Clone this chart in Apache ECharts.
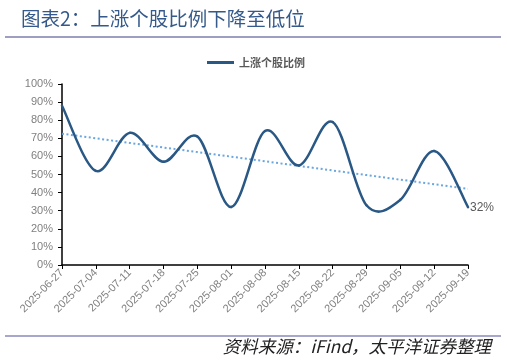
<!DOCTYPE html>
<html>
<head>
<meta charset="utf-8">
<script src="https://cdn.jsdelivr.net/npm/echarts@6/dist/echarts.min.js"></script>
<style>
html,body{margin:0;padding:0;background:#fff;}
#chart{width:507px;height:363px;}
</style>
</head>
<body>
<div id="chart"></div>
<script>
var titleText = '图表2：上涨个股比例下降至低位';
var sourceText = '资料来源：iFind，太平洋证券整理';
var seriesName = '上涨个股比例';
var categories = ['2025-06-27','2025-07-04','2025-07-11','2025-07-18','2025-07-25','2025-08-01','2025-08-08','2025-08-15','2025-08-22','2025-08-29','2025-09-05','2025-09-12','2025-09-19'];
var values = [88, 52, 73, 57, 71, 32, 74, 55, 79, 33, 36, 63, 32];
var yTicks = [0, 10, 20, 30, 40, 50, 60, 70, 80, 90, 100];

// linear trend line (least squares) derived from the values
var n = values.length, sx = 0, sy = 0, sxy = 0, sxx = 0;
for (var i = 0; i < n; i++) { sx += i; sy += values[i]; sxy += i * values[i]; sxx += i * i; }
var slope = (n * sxy - sx * sy) / (n * sxx - sx * sx);
var intercept = (sy - slope * sx) / n;
var trend = values.map(function (v, i) { return +(intercept + slope * i).toFixed(2); });

var lineColor = '#2A5885';

// Excel-style smoothed line: each segment is a cubic Bezier whose control
// points come from the neighbouring data points (converted by the axes).
function renderSmooth(params, api) {
  var i = params.dataIndex;
  function pt(j) {
    j = Math.max(0, Math.min(n - 1, j));
    return api.coord([j, values[j]]);
  }
  var children = [];
  if (i < n - 1) {
    var p0 = pt(i - 1), p1 = pt(i), p2 = pt(i + 1), p3 = pt(i + 2);
    var k = 1 / 6;
    children.push({
      type: 'bezierCurve',
      shape: {
        x1: p1[0], y1: p1[1], x2: p2[0], y2: p2[1],
        cpx1: p1[0] + (p2[0] - p0[0]) * k, cpy1: p1[1] + (p2[1] - p0[1]) * k,
        cpx2: p2[0] - (p3[0] - p1[0]) * k, cpy2: p2[1] - (p3[1] - p1[1]) * k
      },
      style: {stroke: lineColor, lineWidth: 2.5, fill: null, lineCap: 'round'}
    });
  } else {
    var p = pt(i);
    children.push({
      type: 'text',
      x: p[0] + 2, y: p[1] + 1,
      style: {text: api.value(1) + '%', fill: '#595959', font: '12px "Liberation Sans"', verticalAlign: 'middle', align: 'left'}
    });
  }
  return {type: 'group', children: children};
}

var chart = echarts.init(document.getElementById('chart'), null, {renderer: 'canvas'});
chart.setOption({
  animation: false,
  backgroundColor: '#fff',
  title: {
    text: titleText,
    left: 16, top: 4,
    textStyle: {fontFamily: 'Noto Sans CJK SC', fontSize: 19.5, fontWeight: 'normal', color: '#34598A'}
  },
  legend: {
    data: [seriesName],
    left: 202, top: 52,
    icon: 'rect', itemWidth: 27, itemHeight: 3,
    textStyle: {fontFamily: 'Noto Sans CJK SC', fontSize: 11, fontWeight: 'bold', color: '#595959'}
  },
  graphic: [
    {type: 'line', shape: {x1: 5, y1: 37, x2: 501, y2: 37}, style: {stroke: '#7E7EAE', lineWidth: 1.5}},
    {type: 'line', shape: {x1: 5, y1: 336, x2: 501, y2: 336}, style: {stroke: '#8A8ABC', lineWidth: 1.5}},
    {type: 'text', right: 16, top: 338, style: {text: sourceText, font: 'italic 17.5px "Noto Sans CJK SC"', fill: '#222'}}
  ],
  grid: {left: 62, right: 39, top: 84, bottom: 98, containLabel: false},
  xAxis: {
    type: 'category', data: categories, boundaryGap: false,
    axisLine: {lineStyle: {color: '#000', width: 1.5}},
    axisTick: {show: true, length: 4, lineStyle: {color: '#000'}},
    axisLabel: {rotate: 45, fontSize: 11, color: '#808080', margin: 6, interval: 0, fontFamily: 'Liberation Sans'}
  },
  yAxis: {
    type: 'value', min: yTicks[0], max: yTicks[yTicks.length - 1], interval: 10,
    axisLine: {show: true, lineStyle: {color: '#000', width: 1.5}},
    axisTick: {show: true, length: 4, lineStyle: {color: '#000'}},
    splitLine: {show: false},
    axisLabel: {fontSize: 11, color: '#808080', margin: 9, formatter: '{value}%', fontFamily: 'Liberation Sans'}
  },
  series: [
    {
      name: seriesName, type: 'custom',
      data: values.map(function (v, i) { return [i, v]; }),
      renderItem: renderSmooth,
      itemStyle: {color: lineColor},
      encode: {x: 0, y: 1},
      clip: false,
      z: 3
    },
    {
      name: '趋势', type: 'line', data: trend, smooth: false,
      showSymbol: false, symbol: 'none', silent: true,
      lineStyle: {color: '#6AA6E0', width: 2, type: [2, 2.5]},
      z: 2
    }
  ]
});
</script>
</body>
</html>
